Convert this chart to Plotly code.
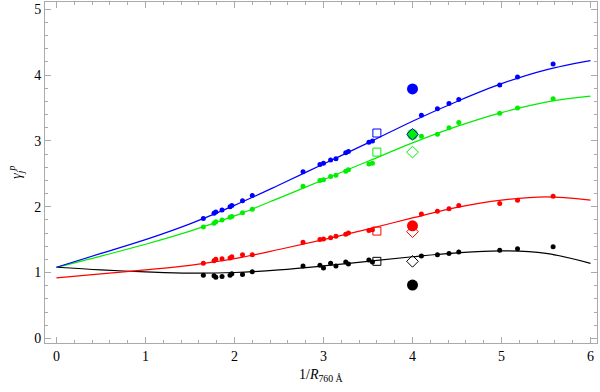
import plotly.graph_objects as go

# fitted curves at regular steps of 1/R
curve_x = [0, 0.5, 1, 1.5, 2, 2.5, 3, 3.5, 4, 4.5, 5, 5.5, 6]
curve_blue = [1.08, 1.29, 1.50, 1.74, 2.02, 2.33, 2.65, 2.97, 3.30, 3.60, 3.87, 4.08, 4.22]
curve_green = [1.08, 1.25, 1.43, 1.63, 1.86, 2.13, 2.41, 2.69, 2.97, 3.22, 3.43, 3.59, 3.68]
curve_red = [0.92, 0.98, 1.04, 1.11, 1.21, 1.35, 1.50, 1.66, 1.83, 1.99, 2.10, 2.15, 2.10]
curve_black = [1.08, 1.04, 1.01, 0.99, 1.00, 1.04, 1.10, 1.17, 1.24, 1.30, 1.33, 1.29, 1.14]

# measured points
pts_x = [1.65, 1.77, 1.79, 1.86, 1.95, 1.97, 2.09, 2.20, 2.77, 2.96, 3.00, 3.08,
         3.14, 3.25, 3.28, 3.51, 3.55, 4.10, 4.28, 4.41, 4.52, 4.98, 5.18, 5.58]
pts_blue = [1.82, 1.90, 1.92, 1.95, 2.00, 2.02, 2.09, 2.17, 2.53, 2.64, 2.66, 2.71,
            2.73, 2.82, 2.84, 2.98, 3.00, 3.39, 3.49, 3.57, 3.63, 3.85, 3.97, 4.17]
pts_green = [1.69, 1.75, 1.77, 1.80, 1.84, 1.85, 1.91, 1.96, 2.31, 2.40, 2.41, 2.46,
             2.48, 2.54, 2.56, 2.65, 2.66, 3.07, 3.10, 3.20, 3.28, 3.42, 3.50, 3.64]
pts_red = [1.14, 1.18, 1.20, 1.21, 1.22, 1.24, 1.27, 1.27, 1.46, 1.50, 1.51, 1.53,
           1.55, 1.58, 1.60, 1.64, 1.65, 1.89, 1.93, 1.97, 2.02, 2.05, 2.10, 2.16]
pts_black = [0.96, 0.95, 0.93, 0.94, 0.96, 0.98, 0.97, 1.01, 1.10, 1.11, 1.07, 1.14,
             1.10, 1.16, 1.13, 1.19, 1.16, 1.25, 1.27, 1.29, 1.31, 1.34, 1.36, 1.39]

# single markers: squares, large dots, diamonds
square_x = 3.60
square_y = {"blue": 3.12, "green": 2.83, "red": 1.63, "black": 1.17}
big_x = 4.0
big_y = {"blue": 3.79, "green": 3.10, "red": 1.71, "black": 0.81}
diamond_x = 4.0
diamond_y = {"blue": 3.10, "green": 2.83, "red": 1.62, "black": 1.17}

colors = {"blue": "#0000ff", "green": "#00ee00", "red": "#ff0000", "black": "#000000"}
curves = {"blue": curve_blue, "green": curve_green, "red": curve_red, "black": curve_black}
points = {"blue": pts_blue, "green": pts_green, "red": pts_red, "black": pts_black}

fig = go.Figure()

for name in ["black", "red", "green", "blue"]:
    c = colors[name]
    fig.add_trace(go.Scatter(x=curve_x, y=curves[name], mode="lines",
                             line=dict(color=c, width=1.2, shape="spline")))
    fig.add_trace(go.Scatter(x=pts_x, y=points[name], mode="markers",
                             marker=dict(color=c, size=5)))

for name in ["black", "red", "green", "blue"]:
    c = colors[name]
    fig.add_trace(go.Scatter(x=[square_x], y=[square_y[name]], mode="markers",
                             marker=dict(symbol="square-open", size=8, color=c,
                                         line=dict(width=1))))
    fig.add_trace(go.Scatter(x=[big_x], y=[big_y[name]], mode="markers",
                             marker=dict(size=11, color=c)))

for name in ["black", "red", "green", "blue"]:
    c = colors[name]
    fig.add_trace(go.Scatter(x=[diamond_x], y=[diamond_y[name]], mode="markers",
                             marker=dict(symbol="diamond-open", size=9, color=c,
                                         line=dict(width=1))))

axis_common = dict(
    showgrid=False, zeroline=False, automargin=False,
    showline=True, linecolor="#aaaaaa", linewidth=1, mirror="ticks",
    ticks="inside", ticklen=6, tickcolor="#aaaaaa",
    tickfont=dict(family="Liberation Serif", size=14, color="black"),
    minor=dict(ticks="inside", ticklen=3, tickcolor="#aaaaaa", dtick=0.2),
)

fig.update_layout(
    width=600, height=392,
    margin=dict(l=45, r=3, t=2, b=49),
    plot_bgcolor="white", paper_bgcolor="white",
    showlegend=False,
    font=dict(family="Liberation Serif", size=14, color="black"),
    xaxis=dict(range=[-0.129, 6.073], dtick=1, **axis_common),
    yaxis=dict(range=[-0.071, 5.111], dtick=1, **axis_common),
    annotations=[
        dict(text="1/<i>R</i><sub>760 Å</sub>", xref="paper", yref="paper",
             x=0.5, y=-0.094, xanchor="center", yanchor="middle", showarrow=False,
             font=dict(family="Liberation Serif", size=14)),
        dict(text="<i>γ</i><sub><i>j</i></sub><sup><i>p</i></sup>", xref="paper", yref="paper",
             x=-0.054, y=0.5, xanchor="center", yanchor="middle", showarrow=False,
             textangle=-90, font=dict(family="Liberation Serif", size=14)),
    ],
)

# drop the browser's default page margin so the figure sits at the window corner
fig.write_html("out.html", config={"displayModeBar": False},
               post_script="document.body.style.margin = '0';")
